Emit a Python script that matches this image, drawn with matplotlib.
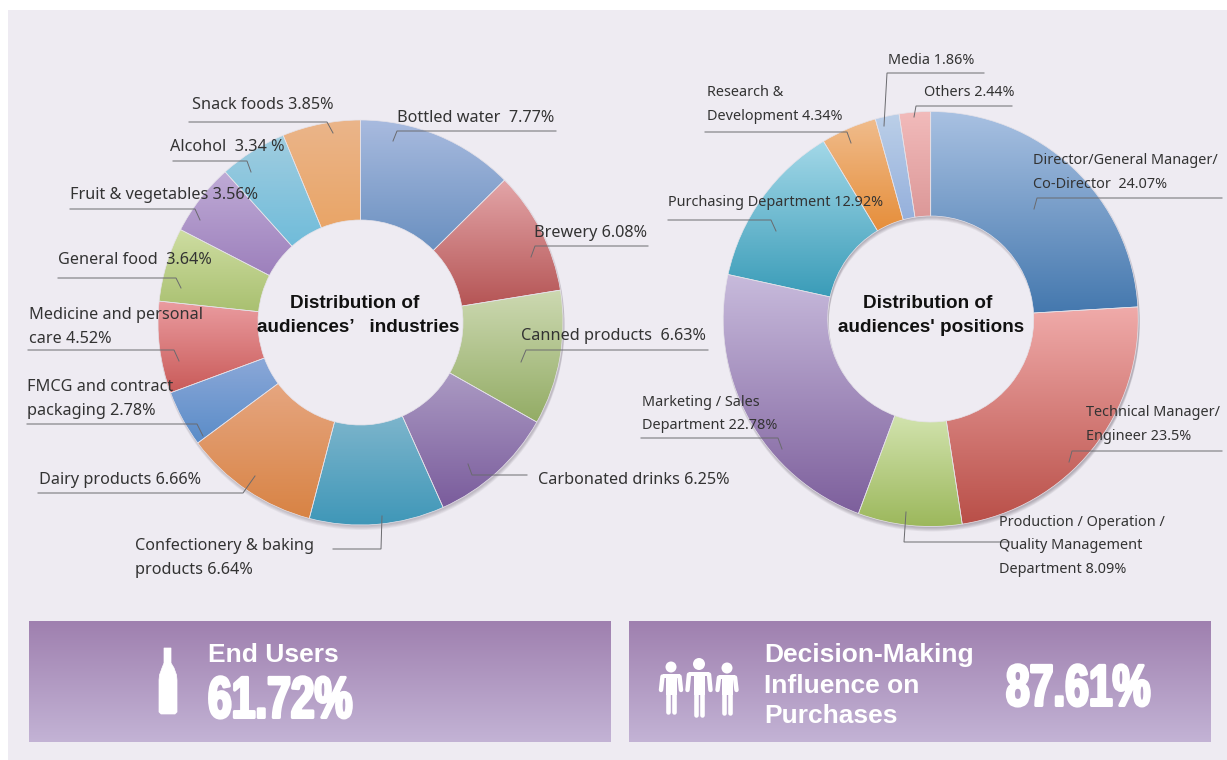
import numpy as np
import matplotlib
matplotlib.use("Agg")
import matplotlib.pyplot as plt
from matplotlib.colors import LinearSegmentedColormap
from matplotlib.patches import Rectangle, Wedge, Circle, Polygon
from matplotlib.transforms import Affine2D
import matplotlib.patheffects as pe

W = 1227
H = 760
PANEL = "#EEEBF2"
TXT = "#333333"
LINE = "#6a6a6e"

# left chart
ind_values = [7.77, 6.08, 6.63, 6.25, 6.64, 6.66, 2.78, 4.52, 3.64, 3.56, 3.34, 3.85]
ind_top = ["#A9BBDF", "#E3A5A8", "#CDD9B2", "#AB9AC3", "#7DB5CC", "#E6A680",
           "#8BA8D8", "#EA9CA0", "#CEDDA2", "#BFABD6", "#A0CDE0", "#EBB58A"]
ind_bot = ["#6A90C0", "#B55555", "#93AC65", "#7A5C9C", "#3F97B8", "#D88344",
           "#5A8CC8", "#C95A58", "#A9C070", "#9D80BC", "#70BCDA", "#E9A567"]
ind_labels = ["Bottled water  7.77%", "Brewery 6.08%", "Canned products  6.63%",
              "Carbonated drinks 6.25%", "Confectionery & baking\nproducts 6.64%",
              "Dairy products 6.66%", "FMCG and contract\npackaging 2.78%",
              "Medicine and personal\ncare 4.52%", "General food  3.64%",
              "Fruit & vegetables 3.56%", "Alcohol  3.34 %", "Snack foods 3.85%"]
ind_pos = [(397, 116), (534, 231), (521, 334), (538, 478), (135, 544), (39, 478),
           (27, 385), (29, 313), (58, 258), (70, 193), (170, 145), (192, 103)]
ind_leaders = [[(556, 131), (397, 131), (393, 141)], [(648, 246), (535, 246), (531, 257)],
               [(708, 350), (526, 350), (521, 362)], [(527, 475), (472, 475), (468, 464)],
               [(333, 549), (381, 549), (382, 516)], [(38, 493), (243, 493), (255, 476)],
               [(27, 424), (197, 424), (203, 436)], [(28, 350), (174, 350), (179, 361)],
               [(58, 278), (176, 278), (181, 288)], [(70, 209), (195, 209), (200, 220)],
               [(173, 161), (247, 161), (251, 172)], [(189, 122), (327, 122), (333, 133)]]

# right chart
pos_values = [24.07, 23.5, 8.09, 22.78, 12.92, 4.34, 1.86, 2.44]
pos_top = ["#A9C1E2", "#F0ABAA", "#D2E3AE", "#C8BBDC", "#A3D8E8", "#F0BC8C", "#BBCFE8", "#F2BBBB"]
pos_bot = ["#4478AE", "#B94F48", "#9CB85C", "#7D5F9C", "#3A9CB8", "#E68E3A", "#95B0DC", "#DC9898"]
pos_labels = ["Director/General Manager/\nCo-Director  24.07%", "Technical Manager/\nEngineer 23.5%",
              "Production / Operation /\nQuality Management\nDepartment 8.09%",
              "Marketing / Sales\nDepartment 22.78%", "Purchasing Department 12.92%",
              "Research &\nDevelopment 4.34%", "Media 1.86%", "Others 2.44%"]
pos_pos = [(1033, 159), (1086, 411), (999, 520), (642, 400), (668, 201), (707, 91), (888, 59), (924, 91)]
pos_leaders = [[(1222, 198), (1037, 198), (1034, 209)], [(1222, 451), (1072, 451), (1069, 462)],
               [(1010, 542), (904, 542), (906, 512)], [(641, 438), (778, 438), (782, 449)],
               [(668, 220), (771, 220), (776, 231)], [(705, 132), (847, 132), (851, 143)],
               [(984, 73), (887, 73), (884, 126)], [(1012, 106), (916, 106), (914, 117)]]


def Y(y):
    return H - y


class Squeeze(pe.AbstractPathEffect):
    # narrows the glyphs so the big numbers look condensed, text stays a Text
    def __init__(self, x0, sx, stroke):
        super().__init__()
        self.x0 = x0
        self.sx = sx
        self.stroke = stroke

    def draw_path(self, renderer, gc, tpath, affine, rgbFace=None):
        t = affine + Affine2D().translate(-self.x0, 0).scale(self.sx, 1).translate(self.x0, 0)
        gc0 = renderer.new_gc()
        gc0.copy_properties(gc)
        gc0.set_linewidth(self.stroke)
        gc0.set_foreground("white")
        renderer.draw_path(gc0, tpath, t, rgbFace)
        gc0.restore()


def gradient(ax, c1, c2, extent, clip=None, z=2):
    cm = LinearSegmentedColormap.from_list("g", [c1, c2])
    im = ax.imshow(np.linspace(0, 1, 256)[:, None], cmap=cm, extent=extent, aspect="auto",
                   interpolation="bilinear", zorder=z)
    if clip is not None:
        im.set_clip_path(clip)


def donut(ax, values, tops, bots, cx, cy, R, r, hole_shadow):
    # soft shadow
    inner = r if hole_shadow else r + 12
    for k in range(1, 6):
        ax.add_patch(Wedge((cx + 1, Y(cy) - k * 0.9), R + 0.5, 0, 360, width=R + 0.5 - inner,
                           fc="#3a3040", ec="none", alpha=0.07 if hole_shadow else 0.055, zorder=1))
    wedges, _ = ax.pie(values, center=(cx, Y(cy)), radius=R, startangle=90, counterclock=False,
                       wedgeprops=dict(width=R - r), frame=True)
    for w, c1, c2 in zip(wedges, tops, bots):
        w.set_facecolor("none")
        w.set_edgecolor("#e6e3ea")
        w.set_linewidth(0.5)
        w.set_zorder(3)
        b = w.get_path().get_extents()
        gradient(ax, c1, c2, (b.x0, b.x1, b.y0, b.y1), clip=w)


def labels(ax, texts, positions, leaders, size):
    for s, p, l in zip(texts, positions, leaders):
        for i, part in enumerate(s.split("\n")):
            ax.text(p[0], Y(p[1] + 2 + i * 23.7), part, fontsize=size, color=TXT, ha="left",
                    va="center", zorder=6)
        xs = [q[0] for q in l]
        ys = [Y(q[1]) for q in l]
        ax.plot(xs, ys, color=LINE, lw=0.7, zorder=5, solid_joinstyle="miter")


def person(ax, x, head_y, shoulder, hand, foot, half, head_r):
    ax.add_patch(Circle((x, Y(head_y)), head_r, fc="white", ec="none", zorder=5))
    ax.add_patch(Rectangle((x - 5.5, Y(hand + 3)), 11, hand + 3 - shoulder, fc="white", ec="none", zorder=5))
    ax.add_patch(Rectangle((x - half + 3.5, Y(shoulder + 4)), 2 * half - 7, 4, fc="white", ec="none", zorder=5))
    ax.plot([x - half + 3.5, x - half + 2], [Y(shoulder + 2.5), Y(hand - 2)], color="white", lw=3.2,
            solid_capstyle="round", zorder=5)
    ax.plot([x + half - 3.5, x + half - 2], [Y(shoulder + 2.5), Y(hand - 2)], color="white", lw=3.2,
            solid_capstyle="round", zorder=5)
    ax.plot([x - 2.9, x - 2.9], [Y(hand), Y(foot - 2)], color="white", lw=3.3, solid_capstyle="round", zorder=5)
    ax.plot([x + 2.9, x + 2.9], [Y(hand), Y(foot - 2)], color="white", lw=3.3, solid_capstyle="round", zorder=5)


plt.rcParams["font.family"] = ["Noto Sans", "DejaVu Sans"]
fig = plt.figure(figsize=(W / 100, H / 100), dpi=100, facecolor="white")
ax = fig.add_axes([0, 0, 1, 1])

ax.add_patch(Rectangle((8, 0), W - 8, H - 10, fc=PANEL, ec="none", zorder=0))

donut(ax, ind_values, ind_top, ind_bot, 360.5, 322.5, 202.5, 102.5, False)
donut(ax, pos_values, pos_top, pos_bot, 930.7, 319, 207.5, 103, True)
labels(ax, ind_labels, ind_pos, ind_leaders, 11.7)
labels(ax, pos_labels, pos_pos, pos_leaders, 10.4)

title_kw = dict(fontsize=13.6, fontweight="bold", color="#111111", family="Liberation Sans",
                ha="center", va="center", zorder=6)
ax.text(355, Y(304), "Distribution of", **title_kw)
ax.text(358, Y(328), "audiences’   industries", **title_kw)
ax.text(928, Y(304), "Distribution of", **title_kw)
ax.text(931, Y(328), "audiences' positions", **title_kw)

# bottom boxes
for x0, x1 in [(29, 611), (629, 1211)]:
    gradient(ax, "#9F80AF", "#C3B3D5", (x0, x1, Y(742), Y(621)), z=1)

head_kw = dict(fontsize=19, fontweight="bold", color="white", family="Liberation Sans",
               ha="left", va="baseline", zorder=6)
big_kw = dict(fontsize=42, fontweight="bold", color="white", family="Liberation Sans",
              ha="left", va="baseline", zorder=6)
ax.text(208, Y(662), "End Users", **head_kw)
t1 = ax.text(208, Y(717.5), "61.72%", **big_kw)
t1.set_path_effects([Squeeze(208, 0.73, 2.2)])
ax.text(764, Y(662), "Decision-Making", **head_kw)
ax.text(764, Y(693), "Influence on", **head_kw)
ax.text(764, Y(723), "Purchases", **head_kw)
t2 = ax.text(1006, Y(705.5), "87.61%", **big_kw)
t2.set_path_effects([Squeeze(1006, 0.73, 2.2)])

# bottle
bottle = [(164, 648), (171, 648), (171, 663), (174, 668), (176.5, 675), (177, 680), (177, 712), (175, 714),
          (161, 714), (159, 712), (159, 680), (159.5, 675), (162, 668), (164, 663)]
ax.add_patch(Polygon([(a, Y(b)) for a, b in bottle], closed=True, fc="white", ec="white", lw=0.5, zorder=5))

person(ax, 671, 667, 674, 692, 714, 12, 5.5)
person(ax, 699, 664, 672, 692, 717, 13.5, 6)
person(ax, 727, 668, 675, 692, 715, 11.5, 5.5)

ax.set_xlim(0, W)
ax.set_ylim(0, H)
ax.set_aspect("auto")
ax.axis("off")
fig.savefig("out.png", dpi=100, facecolor="white")
